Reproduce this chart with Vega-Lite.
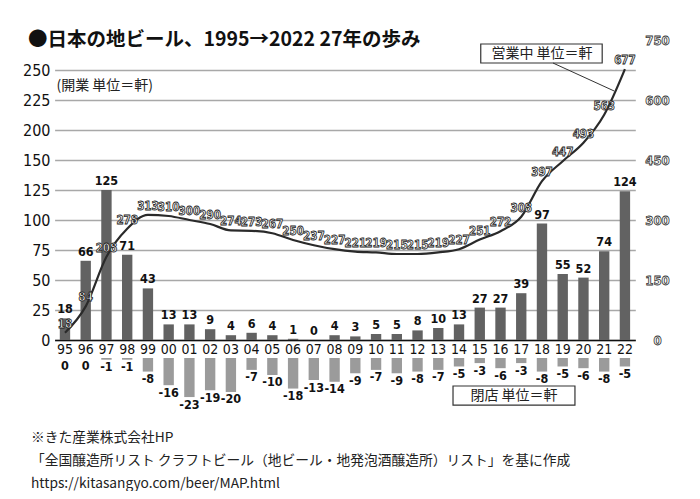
{
  "$schema": "https://vega.github.io/schema/vega-lite/v6.json",
  "background": "white",
  "padding": {"left": 22, "top": 30, "right": 0, "bottom": 0},
  "autosize": {"type": "pad"},
  "spacing": 2,
  "data": {"values": [
    {"yr": "95", "open": 18, "total": 18, "close": 0},
    {"yr": "96", "open": 66, "total": 84, "close": 0},
    {"yr": "97", "open": 125, "total": 208, "close": -1},
    {"yr": "98", "open": 71, "total": 278, "close": -1},
    {"yr": "99", "open": 43, "total": 313, "close": -8},
    {"yr": "00", "open": 13, "total": 310, "close": -16},
    {"yr": "01", "open": 13, "total": 300, "close": -23},
    {"yr": "02", "open": 9, "total": 290, "close": -19},
    {"yr": "03", "open": 4, "total": 274, "close": -20},
    {"yr": "04", "open": 6, "total": 273, "close": -7},
    {"yr": "05", "open": 4, "total": 267, "close": -10},
    {"yr": "06", "open": 1, "total": 250, "close": -18},
    {"yr": "07", "open": 0, "total": 237, "close": -13},
    {"yr": "08", "open": 4, "total": 227, "close": -14},
    {"yr": "09", "open": 3, "total": 221, "close": -9},
    {"yr": "10", "open": 5, "total": 219, "close": -7},
    {"yr": "11", "open": 5, "total": 215, "close": -9},
    {"yr": "12", "open": 8, "total": 215, "close": -8},
    {"yr": "13", "open": 10, "total": 219, "close": -7},
    {"yr": "14", "open": 13, "total": 227, "close": -5},
    {"yr": "15", "open": 27, "total": 251, "close": -3},
    {"yr": "16", "open": 27, "total": 272, "close": -6},
    {"yr": "17", "open": 39, "total": 308, "close": -3},
    {"yr": "18", "open": 97, "total": 397, "close": -8},
    {"yr": "19", "open": 55, "total": 447, "close": -5},
    {"yr": "20", "open": 52, "total": 493, "close": -6},
    {"yr": "21", "open": 74, "total": 563, "close": -8},
    {"yr": "22", "open": 124, "total": 677, "close": -5}
  ]},
  "vconcat": [
    {
      "width": 587,
      "height": 300,
      "encoding": {
        "x": {"field": "yr", "type": "ordinal", "sort": null,
          "scale": {"domain": ["95","96","97","98","99","00","01","02","03","04","05","06","07","08","09","10","11","12","13","14","15","16","17","18","19","20","21","22"], "paddingInner": 0.5, "paddingOuter": 0.25, "range": [0.6, 581.3]},
          "axis": {"title": null, "labelAngle": 0, "labelFontSize": 14, "labelPadding": 2, "labelColor": "#111", "ticks": false, "domainColor": "#111", "domainWidth": 1.5, "grid": false}}
      },
      "layer": [
        {
          "encoding": {
            "y": {"field": "open", "type": "quantitative", "scale": {"domain": [0, 250], "nice": false},
              "axis": {"values": [0,25,50,75,100,125,150,175,200,225], "labelOverlap": false, "labelExpr": "datum.value > 150 ? datum.value + 25 : datum.value", "title": "(開業 単位＝軒)", "titleAngle": 0, "titleX": 2, "titleY": 45, "titleAlign": "left", "titleBaseline": "middle", "titleFontSize": 14, "titleFontWeight": "normal", "titleColor": "#222", "grid": true, "gridColor": "#a8a8a8", "gridWidth": 1.5, "domain": false, "ticks": false, "labelFontSize": 16, "labelPadding": 4, "labelColor": "#111"}}
          },
          "layer": [
            {
              "mark": {"type": "bar", "color": "#626262"}
            },
            {
              "mark": {"type": "text", "baseline": "bottom", "dy": -2, "fontSize": 12.5, "fontWeight": "bold", "color": "#111"},
              "encoding": {
                "text": {"field": "open"}
              }
            }
          ]
        },
        {
          "layer": [
            {
              "mark": {"type": "line", "color": "#2a2a2a", "strokeWidth": 2.2, "interpolate": "monotone"},
              "encoding": {
                "y": {"field": "total", "type": "quantitative", "scale": {"domain": [0, 750], "nice": false},
                  "axis": {"orient": "right", "values": [0,150,300,450,600,750], "title": null, "grid": false, "domain": false, "ticks": false, "labelAlign": "center", "labelPadding": 16, "labelFontSize": 13, "labelFontWeight": "bold", "labelColor": "white", "encoding": {"labels": {"stroke": {"value": "#333"}, "strokeWidth": {"value": 0.8}}}}}
              }
            },
            {
              "mark": {"type": "text", "baseline": "middle", "dy": -8, "fontSize": 11.5, "fontWeight": "bold", "fill": "white", "stroke": "#222", "strokeWidth": 0.8},
              "encoding": {
                "y": {"field": "total", "type": "quantitative"},
                "text": {"field": "total"}
              }
            },
            {
              "data": {"values": [{}]},
              "mark": {"type": "rect", "fill": "white", "stroke": "#333", "strokeWidth": 1.2, "xOffset": 1, "x2Offset": -2},
              "encoding": {
                "x": {"datum": "15", "type": "ordinal", "bandPosition": 0.5, "scale": {"domain": ["95","96","97","98","99","00","01","02","03","04","05","06","07","08","09","10","11","12","13","14","15","16","17","18","19","20","21","22"], "paddingInner": 0.5, "paddingOuter": 0.25, "range": [0.6, 581.3]}},
                "x2": {"datum": "21", "bandPosition": 0.5},
                "y": {"datum": 740, "type": "quantitative"},
                "y2": {"datum": 692.5}
              }
            },
            {
              "data": {"values": [{}]},
              "mark": {"type": "text", "text": "営業中 単位＝軒", "font": "Noto Sans CJK JP", "fontSize": 14, "fontWeight": "normal", "color": "#222", "align": "center", "baseline": "middle"},
              "encoding": {
                "x": {"datum": "18", "type": "ordinal", "scale": {"domain": ["95","96","97","98","99","00","01","02","03","04","05","06","07","08","09","10","11","12","13","14","15","16","17","18","19","20","21","22"], "paddingInner": 0.5, "paddingOuter": 0.25, "range": [0.6, 581.3]}},
                "y": {"datum": 716, "type": "quantitative"}
              }
            },
            {
              "data": {"values": [{}]},
              "mark": {"type": "rule", "color": "#333", "strokeWidth": 1, "xOffset": 11, "x2Offset": 10},
              "encoding": {
                "x": {"datum": "18", "type": "ordinal", "scale": {"domain": ["95","96","97","98","99","00","01","02","03","04","05","06","07","08","09","10","11","12","13","14","15","16","17","18","19","20","21","22"], "paddingInner": 0.5, "paddingOuter": 0.25, "range": [0.6, 581.3]}},
                "x2": {"datum": "21"},
                "y": {"datum": 692.5, "type": "quantitative"},
                "y2": {"datum": 622.5}
              }
            },
            {
              "data": {"values": [{}]},
              "mark": {"type": "text", "text": "●日本の地ビール、1995→2022 27年の歩み", "font": "Noto Sans CJK JP", "fontSize": 19.5, "fontWeight": "bold", "color": "#111", "align": "left", "baseline": "middle", "dx": -37},
              "encoding": {
                "x": {"datum": "95", "type": "ordinal", "scale": {"domain": ["95","96","97","98","99","00","01","02","03","04","05","06","07","08","09","10","11","12","13","14","15","16","17","18","19","20","21","22"], "paddingInner": 0.5, "paddingOuter": 0.25, "range": [0.6, 581.3]}},
                "y": {"datum": 750, "type": "quantitative"}
              }
            }
          ]
        }
      ],
      "resolve": {"scale": {"y": "independent"}}
    },
    {
      "width": 587,
      "height": 45,
      "encoding": {
        "x": {"field": "yr", "type": "ordinal", "sort": null,
          "scale": {"domain": ["95","96","97","98","99","00","01","02","03","04","05","06","07","08","09","10","11","12","13","14","15","16","17","18","19","20","21","22"], "paddingInner": 0.5, "paddingOuter": 0.25, "range": [0.6, 581.3]},
          "axis": null}
      },
      "layer": [
        {
          "mark": {"type": "bar", "color": "#9b9b9b"},
          "encoding": {
            "y": {"field": "close", "type": "quantitative", "scale": {"domain": [-26.5, 0], "nice": false}, "axis": null},
            "y2": {"datum": 0}
          }
        },
        {
          "mark": {"type": "text", "baseline": "middle", "dy": 7.5, "fontSize": 12.5, "fontWeight": "bold", "color": "#111"},
          "encoding": {
            "y": {"field": "close", "type": "quantitative"},
            "text": {"field": "close"}
          }
        },
        {
          "data": {"values": [{}]},
          "mark": {"type": "rect", "fill": "white", "stroke": "#333", "strokeWidth": 1.2, "xOffset": -6, "x2Offset": -8.5},
          "encoding": {
            "x": {"datum": "14", "type": "ordinal", "bandPosition": 0.5, "scale": {"domain": ["95","96","97","98","99","00","01","02","03","04","05","06","07","08","09","10","11","12","13","14","15","16","17","18","19","20","21","22"], "paddingInner": 0.5, "paddingOuter": 0.25, "range": [0.6, 581.3]}},
            "x2": {"datum": "20", "bandPosition": 0.5},
            "y": {"datum": -16.5, "type": "quantitative"},
            "y2": {"datum": -27.7}
          }
        },
        {
          "data": {"values": [{}]},
          "mark": {"type": "text", "text": "閉店 単位＝軒", "font": "Noto Sans CJK JP", "fontSize": 14, "fontWeight": "normal", "color": "#222", "align": "center", "baseline": "middle", "dx": 13.5},
          "encoding": {
            "x": {"datum": "16", "type": "ordinal", "scale": {"domain": ["95","96","97","98","99","00","01","02","03","04","05","06","07","08","09","10","11","12","13","14","15","16","17","18","19","20","21","22"], "paddingInner": 0.5, "paddingOuter": 0.25, "range": [0.6, 581.3]}},
            "y": {"datum": -22.1, "type": "quantitative"}
          }
        },
        {
          "data": {"values": [{}]},
          "mark": {"type": "text", "text": ["※きた産業株式会社HP", "「全国醸造所リスト クラフトビール（地ビール・地発泡酒醸造所）リスト」を基に作成", "https://kitasangyo.com/beer/MAP.html"], "font": "Noto Sans CJK JP", "fontSize": 13.75, "fontWeight": "normal", "lineHeight": 23, "color": "#222", "align": "left", "baseline": "top", "dx": -34},
          "encoding": {
            "x": {"datum": "95", "type": "ordinal", "scale": {"domain": ["95","96","97","98","99","00","01","02","03","04","05","06","07","08","09","10","11","12","13","14","15","16","17","18","19","20","21","22"], "paddingInner": 0.5, "paddingOuter": 0.25, "range": [0.6, 581.3]}},
            "y": {"datum": -43, "type": "quantitative"}
          }
        }
      ]
    }
  ],
  "config": {
    "view": {"stroke": null},
    "axis": {"labelFont": "Liberation Sans Narrow, DejaVu Sans Condensed, Roboto Condensed, Liberation Sans, sans-serif", "titleFont": "Noto Sans CJK JP"},
    "text": {"font": "Liberation Sans Narrow, DejaVu Sans Condensed, Roboto Condensed, Liberation Sans, sans-serif"}
  }
}
